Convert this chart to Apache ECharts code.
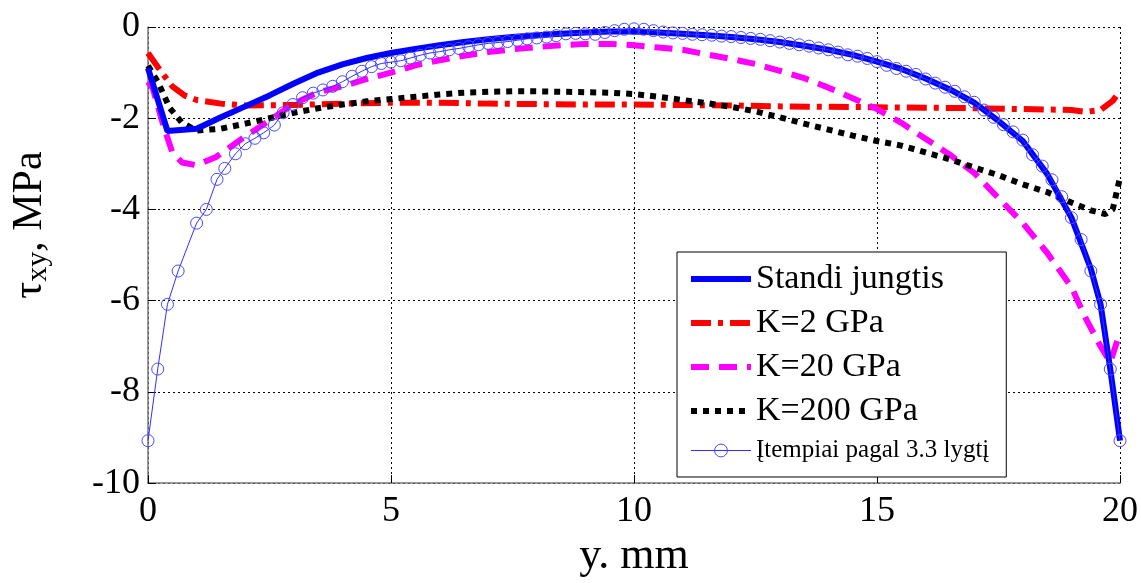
<!DOCTYPE html>
<html>
<head>
<meta charset="utf-8">
<script src="https://cdn.jsdelivr.net/npm/echarts@6/dist/echarts.min.js"></script>
<style>
  html, body { margin: 0; padding: 0; background: #fff; }
  #chart { width: 1141px; height: 583px; }
</style>
</head>
<body>
<div id="chart"></div>
<script>
// x ticks and y ticks
var xTicks = [0, 5, 10, 15, 20];
var yTicks = [-10, -8, -6, -4, -2, 0];

// Standi jungtis (thick blue)
var standi = [
    [0, -0.9], [0.4, -2.28], [1.0, -2.23], [1.5, -1.98], [2, -1.74], [2.5, -1.5],
    [3, -1.24], [3.5, -1.0], [4, -0.82], [4.5, -0.68], [5, -0.57], [5.5, -0.48],
    [6, -0.4], [6.5, -0.33], [7, -0.27], [7.5, -0.22], [8, -0.18], [8.5, -0.15],
    [9, -0.12], [9.5, -0.1], [10, -0.1], [10.5, -0.12], [11, -0.15], [11.5, -0.18],
    [12, -0.22], [12.5, -0.27], [13, -0.33], [13.5, -0.41], [14, -0.5], [14.5, -0.61],
    [15, -0.76], [15.5, -0.92], [16, -1.13], [16.5, -1.37], [17, -1.66], [17.5, -2.06],
    [18, -2.5], [18.5, -3.22], [19, -4.18], [19.4, -5.3], [19.6, -6.08], [19.8, -7.5],
    [20, -9.07]
];

// K=2 GPa (red dash-dot)
var k2 = [
    [0, -0.57], [0.25, -0.95], [0.5, -1.3], [0.75, -1.5], [1, -1.6], [1.5, -1.68],
    [2, -1.72], [3, -1.71], [4, -1.68], [5, -1.66], [6, -1.66], [7, -1.68], [8, -1.69],
    [9, -1.7], [10, -1.7], [11, -1.71], [12, -1.72], [13, -1.74], [14, -1.75],
    [15, -1.76], [16, -1.77], [17, -1.78], [18, -1.8], [19, -1.82], [19.3, -1.86],
    [19.6, -1.82], [19.85, -1.62], [20, -1.4]
];

// K=20 GPa (magenta dashed)
var k20 = [
    [0, -1.2], [0.1, -1.35], [0.3, -2.1], [0.5, -2.75], [0.7, -2.97], [1.0, -3.03],
    [1.4, -2.85], [2.0, -2.4], [2.5, -2.05], [3, -1.68], [3.5, -1.43], [4, -1.3],
    [4.5, -1.14], [5, -1.0], [5.5, -0.84], [6, -0.73], [6.5, -0.63], [7, -0.55],
    [7.5, -0.49], [8, -0.44], [8.5, -0.4], [9, -0.37], [9.5, -0.37], [10, -0.4],
    [10.5, -0.45], [11, -0.5], [11.5, -0.6], [12, -0.7], [12.5, -0.81], [13, -0.96],
    [13.5, -1.12], [14, -1.33], [14.5, -1.56], [15, -1.8], [15.5, -2.1], [16, -2.45],
    [16.5, -2.8], [17, -3.2], [17.5, -3.75], [18, -4.3], [18.5, -4.95], [19, -5.7],
    [19.3, -6.4], [19.6, -7.0], [19.8, -7.35], [20, -6.7]
];

// K=200 GPa (black dotted)
var k200 = [
    [0, -0.85], [0.2, -1.2], [0.45, -1.78], [0.7, -2.1], [1.0, -2.27], [1.5, -2.23],
    [2, -2.12], [2.5, -2.0], [3, -1.88], [3.5, -1.78], [4, -1.7], [4.5, -1.63],
    [5, -1.58], [5.5, -1.53], [6, -1.48], [6.5, -1.44], [7, -1.42], [7.5, -1.41],
    [8, -1.41], [8.5, -1.42], [9, -1.43], [9.5, -1.44], [10, -1.47], [10.5, -1.53],
    [11, -1.6], [11.5, -1.67], [12, -1.75], [12.5, -1.85], [13, -1.98], [13.5, -2.12],
    [14, -2.25], [14.5, -2.38], [15, -2.5], [15.5, -2.6], [16, -2.75], [16.5, -2.9],
    [17, -3.08], [17.5, -3.25], [18, -3.45], [18.5, -3.62], [19, -3.85], [19.4, -4.02],
    [19.7, -4.1], [19.85, -4.0], [20, -3.3]
];

// Įtempiai pagal 3.3 lygtį (circles)
var lygtis = [
    [0, -9.07], [0.2, -7.5], [0.4, -6.08], [0.62, -5.35], [1.0, -4.3], [1.2, -4.0],
    [1.42, -3.34], [1.58, -3.1], [1.8, -2.78], [2.0, -2.56], [2.2, -2.44], [2.38, -2.32],
    [2.6, -2.15], [2.78, -1.88], [2.98, -1.7], [3.18, -1.55], [3.4, -1.45], [3.6, -1.38],
    [3.8, -1.3], [4.0, -1.2], [4.2, -1.08], [4.4, -0.97], [4.6, -0.87], [4.8, -0.8],
    [5.0, -0.77], [5.2, -0.74], [5.4, -0.68], [5.6, -0.62], [5.8, -0.57], [6.0, -0.54],
    [6.2, -0.5], [6.4, -0.47], [6.6, -0.43], [6.8, -0.39], [7.0, -0.36], [7.2, -0.34],
    [7.4, -0.32], [7.6, -0.29], [7.8, -0.26], [8.0, -0.24], [8.2, -0.22], [8.4, -0.19],
    [8.6, -0.15], [8.8, -0.14], [9.0, -0.15], [9.2, -0.16], [9.4, -0.12], [9.6, -0.08],
    [9.8, -0.05], [10.0, -0.04], [10.2, -0.05], [10.4, -0.08], [10.6, -0.11], [10.8, -0.13],
    [11.0, -0.14], [11.2, -0.16], [11.4, -0.17], [11.6, -0.18], [11.8, -0.2], [12.0, -0.21],
    [12.2, -0.23], [12.4, -0.25], [12.6, -0.27], [12.8, -0.3], [13.0, -0.33], [13.2, -0.36],
    [13.4, -0.39], [13.6, -0.42], [13.8, -0.46], [14.0, -0.5], [14.2, -0.55], [14.4, -0.61],
    [14.6, -0.64], [14.8, -0.69], [15.0, -0.76], [15.2, -0.84], [15.4, -0.91], [15.6, -0.97],
    [15.8, -1.04], [16.0, -1.14], [16.2, -1.23], [16.4, -1.32], [16.6, -1.41], [16.8, -1.53],
    [17.0, -1.65], [17.2, -1.82], [17.4, -1.98], [17.6, -2.14], [17.8, -2.3], [18.0, -2.48],
    [18.2, -2.8], [18.4, -3.05], [18.6, -3.35], [18.8, -3.72], [19.0, -4.18], [19.2, -4.66],
    [19.4, -5.35], [19.6, -6.08], [19.8, -7.5], [20.0, -9.07]
];

var FONT = 'Liberation Serif';

var chart = echarts.init(document.getElementById('chart'));

// legend items for plain lines: hide the marker, keep the line
var noIcon = { opacity: 0 };

var option = {
    backgroundColor: '#fff',
    animation: false,
    grid: { left: 148, right: 21, top: 27, bottom: 95 },
    legend: {
        orient: 'vertical',
        left: 677,
        top: 252,
        itemWidth: 60,
        itemHeight: 16,
        itemGap: 10,
        padding: [10, 17, 14, 11],
        backgroundColor: '#fff',
        borderColor: '#000',
        borderWidth: 1,
        borderRadius: 0,
        selectedMode: false,
        lineStyle: { width: 6 },
        textStyle: { fontFamily: FONT, fontSize: 34, color: '#000' },
        data: [
            { name: 'Standi jungtis', itemStyle: noIcon },
            { name: 'K=2 GPa', itemStyle: noIcon },
            { name: 'K=20 GPa', itemStyle: noIcon },
            { name: 'K=200 GPa', itemStyle: noIcon },
            {
                name: 'Įtempiai pagal 3.3 lygtį',
                textStyle: { fontSize: 25 },
                lineStyle: { width: 1 },
                itemStyle: { borderWidth: 1 }
            }
        ]
    },
    xAxis: {
        type: 'value',
        min: xTicks[0],
        max: xTicks[xTicks.length - 1],
        interval: 5,
        name: 'y. mm',
        nameLocation: 'middle',
        nameGap: 48,
        nameTextStyle: { fontFamily: FONT, fontSize: 44, color: '#000' },
        axisLine: { show: true, onZero: false, lineStyle: { color: '#777', width: 1.5 } },
        axisTick: { show: true, inside: true, length: 8, lineStyle: { color: '#000' } },
        axisLabel: { fontFamily: FONT, fontSize: 36, color: '#000', margin: 10 },
        splitLine: { show: true, lineStyle: { color: '#000', type: [2, 3], width: 1 } }
    },
    yAxis: {
        type: 'value',
        min: yTicks[0],
        max: yTicks[yTicks.length - 1],
        interval: 2,
        name: '{t|τ}{s|xy}{t|, MPa}',
        nameLocation: 'middle',
        nameRotate: 90,
        nameGap: 95,
        nameTextStyle: {
            padding: [0, 0, 0, 60],
            rich: {
                t: { fontFamily: FONT, fontSize: 42, color: '#000' },
                s: { fontFamily: FONT, fontSize: 30, color: '#000', padding: [16, 0, 0, 0] }
            }
        },
        axisLine: { show: true, onZero: false, lineStyle: { color: '#777', width: 1.5 } },
        axisTick: { show: true, inside: true, length: 8, lineStyle: { color: '#000' } },
        axisLabel: { fontFamily: FONT, fontSize: 36, color: '#000', margin: 8 },
        splitLine: { show: true, lineStyle: { color: '#000', type: [2, 3], width: 1 } }
    },
    series: [
        {
            name: 'Standi jungtis', type: 'line', data: standi, symbol: 'none', z: 5,
            lineStyle: { color: '#0000ff', width: 6 }, itemStyle: { color: '#0000ff' }
        },
        {
            name: 'K=2 GPa', type: 'line', data: k2, symbol: 'none', z: 2,
            lineStyle: { color: '#ff0000', width: 6, type: [20, 7, 5, 7], cap: 'butt' },
            itemStyle: { color: '#ff0000' }
        },
        {
            name: 'K=20 GPa', type: 'line', data: k20, symbol: 'none', z: 3,
            lineStyle: { color: '#ff00ff', width: 6, type: [18, 10], cap: 'butt' },
            itemStyle: { color: '#ff00ff' }
        },
        {
            name: 'K=200 GPa', type: 'line', data: k200, symbol: 'none', z: 4,
            lineStyle: { color: '#000000', width: 6, type: [6, 6], cap: 'butt' },
            itemStyle: { color: '#000000' }
        },
        {
            name: 'Įtempiai pagal 3.3 lygtį', type: 'line', data: lygtis, z: 6,
            symbol: 'circle', symbolSize: 12,
            lineStyle: { color: '#3030ff', width: 1 },
            itemStyle: { color: 'rgba(0,0,0,0)', borderColor: '#4a4aff', borderWidth: 1 }
        }
    ]
};

chart.setOption(option);
</script>
</body>
</html>
